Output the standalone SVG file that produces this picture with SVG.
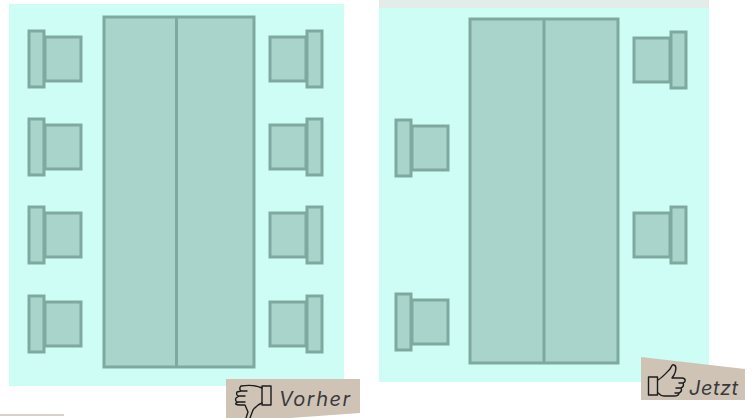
<svg xmlns="http://www.w3.org/2000/svg" width="753" height="418" viewBox="0 0 753 418">
<style>
.f{fill:#a8d4cc;stroke:#7fa99f;stroke-width:3}
.l{stroke:#7fa99f;stroke-width:3;fill:none}
.t{font-family:"Inter","Liberation Sans",sans-serif;font-style:italic;font-size:20px;fill:#3a3a3c}
.i{fill:none;stroke:#1c1c1c;stroke-width:1.4;stroke-linejoin:round;stroke-linecap:round}
</style>
<defs>
<g id="cl"><rect class="f" x="17" y="6" width="36" height="44"/><rect class="f" x="1" y="0" width="15" height="56"/></g>
<g id="cr"><rect class="f" x="1" y="6" width="36" height="44"/><rect class="f" x="38" y="0" width="15" height="56"/></g>
</defs>
<rect id="panel-before" x="9" y="4" width="335" height="382" fill="#cefdf6"/>
<rect id="panel-after" x="379" y="0" width="330" height="382" fill="#cefdf6"/>
<rect x="379" y="0" width="330" height="8" fill="#e4ece9"/>
<rect x="0" y="414" width="64" height="2" fill="#d8d0c6"/>
<g id="table-before"><rect class="f" x="104" y="17" width="150" height="350"/><line class="l" x1="176.500" y1="17" x2="176.500" y2="367"/></g>
<g id="table-after"><rect class="f" x="470" y="19" width="148" height="344"/><line class="l" x1="544" y1="19" x2="544" y2="363"/></g>
<g id="chair-b1"><use href="#cl" x="28" y="31"/></g>
<g id="chair-b2"><use href="#cl" x="28" y="119"/></g>
<g id="chair-b3"><use href="#cl" x="28" y="207"/></g>
<g id="chair-b4"><use href="#cl" x="28" y="296"/></g>
<g id="chair-b5"><use href="#cr" x="269" y="31"/></g>
<g id="chair-b6"><use href="#cr" x="269" y="119"/></g>
<g id="chair-b7"><use href="#cr" x="269" y="207"/></g>
<g id="chair-b8"><use href="#cr" x="269" y="296"/></g>
<g id="chair-a1"><use href="#cl" x="395" y="120"/></g>
<g id="chair-a2"><use href="#cl" x="395" y="294"/></g>
<g id="chair-a3"><use href="#cr" x="633" y="32"/></g>
<g id="chair-a4"><use href="#cr" x="633" y="207"/></g>
<g id="label-before">
<polygon points="226,379 360,379 360,413 290,418 226,418" fill="#cfc3b6"/>
<rect class="i" x="262" y="386" width="9" height="19"/>
<path class="i" d="M262 388 C256 385 248 385 241 386 C239 388 240 390 241 391 L237 392 C236 394 237 396 239 396 L236 398 C235 400 236 402 238 402 L236 403 C235 405 237 405 245 405 L248 412 L246 418 M250 418 L253 410 C256 406 259 404 262 403 M241 391 L247 391 M239 396 L245 396 M238 402 L245 402"/>
<text class="t" x="279" y="406" textLength="71">Vorher</text>
</g>
<g id="label-after">
<polygon points="641,357 745,369 745,400 641,400" fill="#cfc3b6"/>
<rect class="i" x="648.500" y="377" width="9" height="18"/>
<path class="i" d="M658 380 C663 377 667 372 670 369 C672 366 672 364 674 365 C677 366 676 371 674 375 L672 378 L682 378 C686 378 686 382 683 383 L679 383 M683 383 C684 385 683 387 681 388 L676 388 M681 388 C682 390 681 392 679 393 L675 393 M679 393 C679 395 677 396 674 396 L664 396 C661 396 659 394 658 393"/>
<text class="t" x="689" y="395" textLength="49">Jetzt</text>
</g>
</svg>
